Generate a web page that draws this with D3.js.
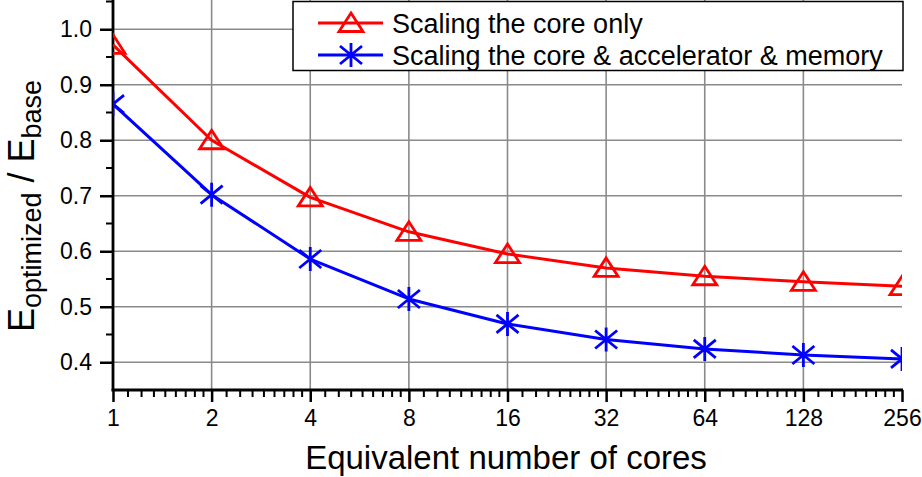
<!DOCTYPE html>
<html>
<head>
<meta charset="utf-8">
<script src="https://cdn.jsdelivr.net/npm/d3@7"></script>
<style>
  html, body { margin: 0; padding: 0; background: #fff; }
  svg { display: block; font-family: "Liberation Sans", Arial, sans-serif; }
  .tick text { font-size: 23px; font-family: "Liberation Sans", Arial, sans-serif; }
</style>
</head>
<body>
<svg id="chart" width="922" height="477"></svg>
<script>
// ---- data ----
const cores = [1, 2, 4, 8, 16, 32, 64, 128, 256];
const coreOnly = [0.972, 0.800, 0.697, 0.635, 0.595, 0.570, 0.555, 0.545, 0.537];
const coreAccMem = [0.865, 0.702, 0.586, 0.514, 0.469, 0.441, 0.424, 0.413, 0.406];
const seriesNames = ["Scaling the core only", "Scaling the core & accelerator & memory"];
const xTickLabels = ["1", "2", "4", "8", "16", "32", "64", "128", "256"];
const yTicks = [0.4, 0.5, 0.6, 0.7, 0.8, 0.9, 1.0];
const xTitle = "Equivalent number of cores";

// ---- layout ----
const svg = d3.select("#chart");
const L = 113, R = 902, T = 1.5, B = 390;
const x = d3.scaleLog().base(2).domain([1, 256]).range([L, R]);
const y = d3.scaleLinear().domain([0.35, 1.05]).range([B, T]);

const gridColor = "#8a8a8a";

svg.append("defs").append("clipPath").attr("id", "plotclip")
  .append("rect").attr("x", L).attr("y", 0).attr("width", R - L).attr("height", B);

// grid
const grid = svg.append("g");
grid.selectAll("line.h").data(yTicks).join("line")
  .attr("x1", L).attr("x2", R).attr("y1", d => y(d)).attr("y2", d => y(d))
  .attr("stroke", gridColor).attr("stroke-width", 1.6);
grid.selectAll("line.v").data(cores.slice(1, -1)).join("line")
  .attr("x1", d => x(d)).attr("x2", d => x(d)).attr("y1", 0).attr("y2", B)
  .attr("stroke", gridColor).attr("stroke-width", 1.6);

// x minor tick values (8 per octave, Origin style)
const xMinor = [];
for (let i = 0; i < cores.length - 1; i++) {
  for (let k = 1; k <= 8; k++) xMinor.push(cores[i] * (1 + k / 9));
}
const yMinor = d3.range(0.45, 1.06, 0.1);

// axes
const xAxis = d3.axisBottom(x).tickValues(cores).tickFormat((d, i) => xTickLabels[i])
  .tickSize(12).tickPadding(8);
const gx = svg.append("g").attr("transform", `translate(0,${B})`).call(xAxis);
gx.attr("font-size", 23).attr("font-family", "Liberation Sans, Arial, sans-serif");
gx.select(".domain").remove();
gx.selectAll(".tick line").attr("stroke", "#000").attr("stroke-width", 2.5);
gx.selectAll(".tick text").attr("font-size", 23).attr("fill", "#000");
svg.append("g").selectAll("line").data(xMinor).join("line")
  .attr("x1", d => x(d)).attr("x2", d => x(d)).attr("y1", B).attr("y2", B + 7)
  .attr("stroke", "#000").attr("stroke-width", 2);

const yAxis = d3.axisLeft(y).tickValues(yTicks).tickFormat(d3.format(".1f"))
  .tickSize(13).tickPadding(8);
const gy = svg.append("g").attr("transform", `translate(${L},0)`).call(yAxis);
gy.attr("font-size", 23).attr("font-family", "Liberation Sans, Arial, sans-serif");
gy.select(".domain").remove();
gy.selectAll(".tick line").attr("stroke", "#000").attr("stroke-width", 2.5);
gy.selectAll(".tick text").attr("font-size", 23).attr("fill", "#000");
svg.append("g").selectAll("line").data(yMinor).join("line")
  .attr("x1", L - 7).attr("x2", L).attr("y1", d => y(d)).attr("y2", d => y(d))
  .attr("stroke", "#000").attr("stroke-width", 2);

// axis lines
svg.append("line").attr("x1", L).attr("x2", L).attr("y1", 0).attr("y2", B + 1.2)
  .attr("stroke", "#000").attr("stroke-width", 2.8);
svg.append("line").attr("x1", L - 1.4).attr("x2", R + 1).attr("y1", B).attr("y2", B)
  .attr("stroke", "#000").attr("stroke-width", 2.8);

// markers
function triangle(g, cx, cy, color) {
  g.append("path")
    .attr("d", `M${cx},${cy - 10} L${cx + 12},${cy + 8.5} L${cx - 12},${cy + 8.5} Z`)
    .attr("fill", "none").attr("stroke", color).attr("stroke-width", 2.8)
    .attr("stroke-linejoin", "miter");
}
function asterisk(g, cx, cy, color) {
  g.append("path")
    .attr("d", `M${cx},${cy - 12} L${cx},${cy + 12} M${cx - 11},${cy - 9} L${cx + 11},${cy + 9} M${cx - 11},${cy + 9} L${cx + 11},${cy - 9}`)
    .attr("fill", "none").attr("stroke", color).attr("stroke-width", 2.8);
}

const line = d3.line().x(d => x(d[0])).y(d => y(d[1]));
const plot = svg.append("g").attr("clip-path", "url(#plotclip)");
const series = [
  { vals: coreOnly, color: "#ff0000", marker: triangle },
  { vals: coreAccMem, color: "#0000ff", marker: asterisk }
];
series.forEach(s => {
  const pts = cores.map((c, i) => [c, s.vals[i]]);
  plot.append("path").datum(pts).attr("d", line)
    .attr("fill", "none").attr("stroke", s.color).attr("stroke-width", 3)
    .attr("stroke-linejoin", "round");
  pts.forEach(p => s.marker(plot, x(p[0]), y(p[1]), s.color));
});

// legend
const lg = svg.append("g");
lg.append("rect").attr("x", 293).attr("y", 1.5).attr("width", 610).attr("height", 69)
  .attr("fill", "#fff").attr("stroke", "#000").attr("stroke-width", 1.5);
const rowsY = [23, 55];
series.forEach((s, i) => {
  lg.append("line").attr("x1", 318).attr("x2", 383).attr("y1", rowsY[i]).attr("y2", rowsY[i])
    .attr("stroke", s.color).attr("stroke-width", 3);
  s.marker(lg, 351, rowsY[i], s.color);
  lg.append("text").attr("x", 392).attr("y", rowsY[i] + 10)
    .attr("font-size", 27).attr("fill", "#000").text(seriesNames[i]);
});

// axis titles
svg.append("text").attr("x", 506).attr("y", 469).attr("text-anchor", "middle")
  .attr("font-size", 33).attr("fill", "#000").text(xTitle);

const yt = svg.append("text").attr("transform", "translate(34,206) rotate(-90)")
  .attr("text-anchor", "middle").attr("font-size", 36).attr("fill", "#000");
yt.append("tspan").text("E");
yt.append("tspan").attr("font-size", 27).attr("dy", 7).text("optimized");
yt.append("tspan").attr("dy", -7).text(" / E");
yt.append("tspan").attr("font-size", 27).attr("dy", 7).text("base");
</script>
</body>
</html>
